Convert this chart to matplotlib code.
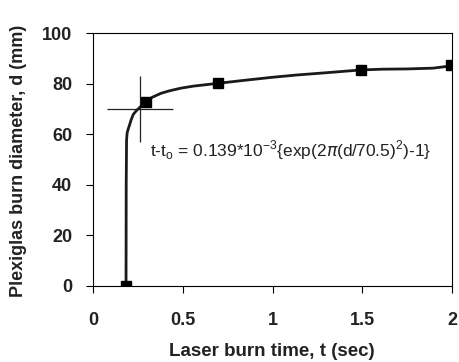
import matplotlib
matplotlib.use("Agg")
import matplotlib.pyplot as plt

plt.rcParams["font.family"] = ["Liberation Sans", "DejaVu Sans"]
plt.rcParams["mathtext.fontset"] = "custom"
plt.rcParams["mathtext.rm"] = "Liberation Sans"

# measured burn points
t_meas = [0.184, 0.293, 0.695, 1.493, 1.995]
d_meas = [0.0, 72.8, 80.1, 85.4, 87.3]

# fitted curve, traced along its length
t_fit = [0.184, 0.185, 0.187, 0.190, 0.196, 0.203, 0.213, 0.225, 0.243, 0.262,
         0.293, 0.33, 0.38, 0.429, 0.49, 0.559, 0.695, 0.856, 1.0, 1.135,
         1.3, 1.493, 1.616, 1.75, 1.894, 1.995]
d_fit = [0.0, 40.0, 57.7, 60.5, 62.0, 63.5, 65.8, 67.9, 69.4, 70.7,
         72.8, 74.6, 76.2, 77.2, 78.2, 79.0, 80.1, 81.4, 82.5, 83.4,
         84.3, 85.4, 85.7, 85.8, 86.1, 87.0]

# error cross
t_err, d_err = 0.262, 70.0
t_err_half, d_err_half = 0.185, 13.2

x_ticks = [0, 0.5, 1, 1.5, 2]
x_tick_labels = ["0", "0.5", "1", "1.5", "2"]
y_ticks = [0, 20, 40, 60, 80, 100]

fig = plt.figure(figsize=(4.59, 3.62), dpi=100)
ax = fig.add_axes([93 / 459, 1 - 286 / 362, (452 - 93) / 459, (286 - 33) / 362])

ax.plot(t_fit, d_fit, color="#1a1a1a", linewidth=2.0, zorder=2)
ax.plot(t_meas, d_meas, linestyle="none", marker="s", markersize=6.5,
        color="black", zorder=3)
ax.errorbar([t_err], [d_err], xerr=[t_err_half], yerr=[d_err_half],
            fmt="none", ecolor="#222222", elinewidth=0.9, capsize=0, zorder=1)

ax.text(0.318, 53.5,
        r"t-t$_\mathregular{o}$ = 0.139*10$^\mathregular{-3}${exp(2$\pi$(d/70.5)$^\mathregular{2}$)-1}",
        fontsize=12.5, va="center", ha="left", color="#222222")

ax.set_xlim(0, 2)
ax.set_ylim(0, 100)
ax.set_xticks(x_ticks)
ax.set_xticklabels(x_tick_labels)
ax.set_yticks(y_ticks)
ax.tick_params(axis="x", pad=14)
ax.tick_params(axis="y", pad=10)
ax.tick_params(direction="out", length=5, width=0.8, labelsize=13,
               top=False, right=False)
for lab in ax.get_xticklabels() + ax.get_yticklabels():
    lab.set_fontweight("bold")
    lab.set_color("#222222")
for s in ax.spines.values():
    s.set_linewidth(0.8)

# axis titles placed in figure coordinates
fig.text(272 / 459, 1 - 352 / 362, "Laser burn time, t (sec)", fontsize=13.5,
         fontweight="bold", color="#222222", ha="center", va="center")
fig.text(19 / 459, 1 - 161 / 362, "Plexiglas burn diameter, d (mm)", rotation=90,
         fontsize=13, fontweight="bold", color="#222222", ha="center", va="center")

fig.savefig("out.png", dpi=100)
